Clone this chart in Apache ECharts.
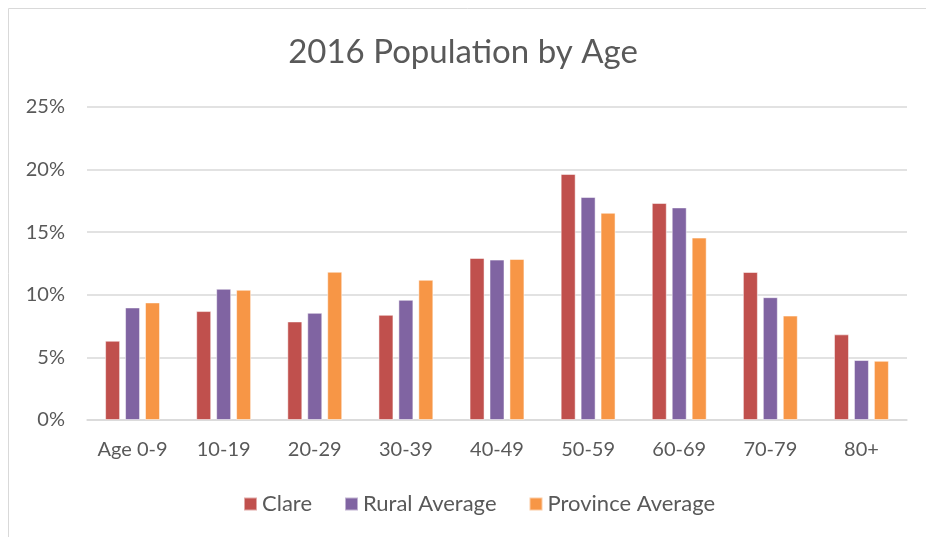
<!DOCTYPE html>
<html><head><meta charset="utf-8">
<script src="https://cdn.jsdelivr.net/npm/echarts@6/dist/echarts.min.js"></script>
<style>html,body{margin:0;padding:0;background:#fff}#c{width:926px;height:537px}</style>
</head><body><div id="c"></div>
<script>
const categories = ['Age 0-9','10-19','20-29','30-39','40-49','50-59','60-69','70-79','80+'];
const clare = [6.33, 8.70, 7.87, 8.40, 12.94, 19.65, 17.33, 11.82, 6.84];
const rural = [8.99, 10.48, 8.56, 9.60, 12.81, 17.81, 16.98, 9.81, 4.79];
const province = [9.39, 10.40, 11.84, 11.20, 12.86, 16.55, 14.57, 8.34, 4.73];
const yTicks = [0, 5, 10, 15, 20, 25];

const font = 'Lato, "Open Sans", sans-serif';
const chart = echarts.init(document.getElementById('c'), null, {renderer:'canvas'});
const mk = (name, data, color) => ({
  name, type:'bar', data, barWidth:15, barGap:'33%',
  itemStyle:{color, borderColor:'rgba(255,255,255,0.5)', borderWidth:1},
  emphasis:{disabled:true}
});
chart.setOption({
  animation:false,
  graphic:[{type:'rect', shape:{x:8.5,y:8.5,width:930,height:540}, style:{fill:'none', stroke:'#d9d9d9', lineWidth:1}}],
  title:{text:'2016 Population by Age', left:'center', top:31,
    textStyle:{fontFamily:font, fontSize:33, fontWeight:'normal', color:'#595959'}},
  legend:{bottom:17, left:238, itemWidth:13, itemHeight:13, itemGap:32, icon:'rect',
    textStyle:{fontFamily:font, fontSize:22, color:'#595959'}},
  grid:{left:87, right:19, top:107, bottom:117, containLabel:false},
  xAxis:{type:'category', data:categories,
    axisLine:{lineStyle:{color:'#d9d9d9', width:1.5}}, axisTick:{show:false},
    axisLabel:{fontFamily:font, fontSize:20, color:'#595959', margin:20, interval:0}},
  yAxis:{type:'value', min:yTicks[0], max:yTicks[yTicks.length-1], interval:5,
    axisLine:{show:false}, axisTick:{show:false},
    splitLine:{lineStyle:{color:'#d9d9d9', width:1.5}},
    axisLabel:{fontFamily:font, fontSize:20, color:'#595959', margin:22, formatter:v=>v+'%'}},
  series:[mk('Clare', clare, '#C0504D'), mk('Rural Average', rural, '#8064A2'), mk('Province Average', province, '#F79646')]
});
</script></body></html>
